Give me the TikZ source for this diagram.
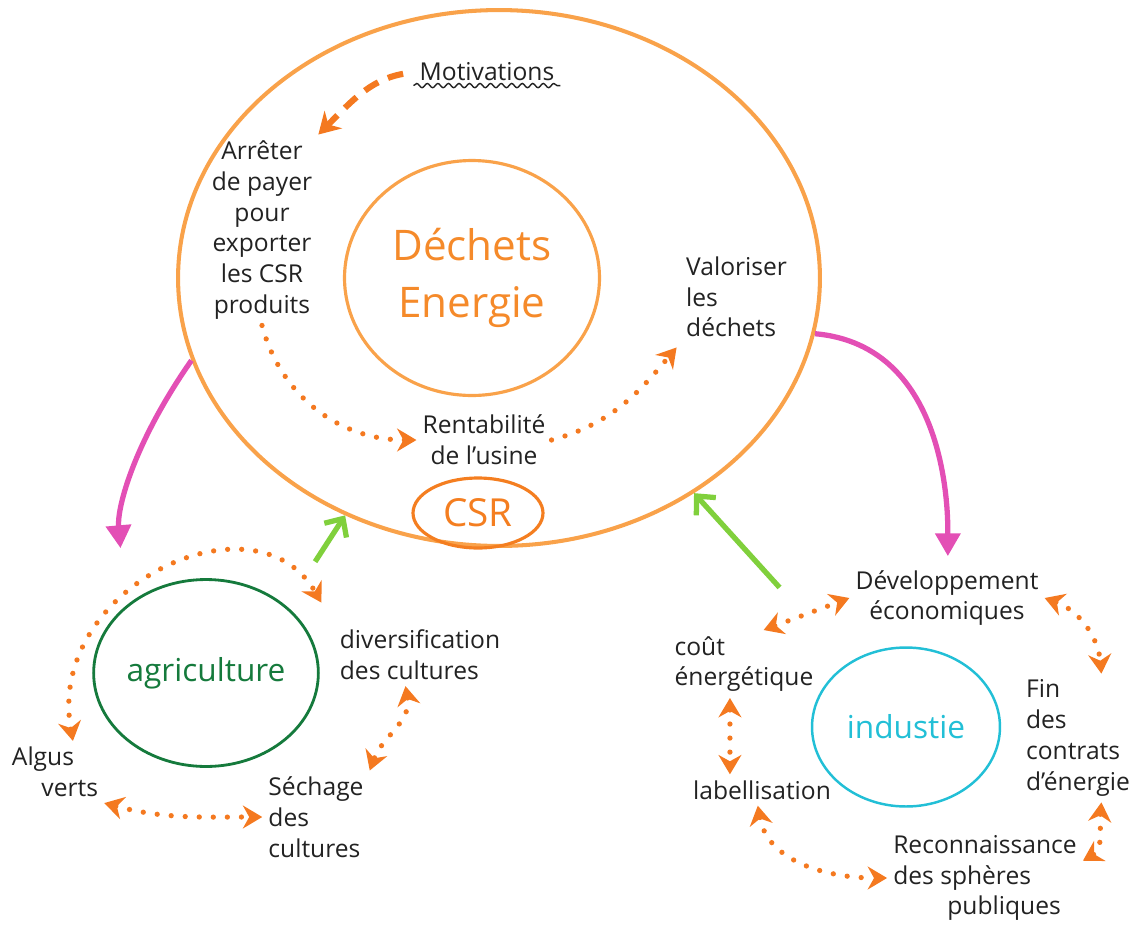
\documentclass[tikz,border=0pt]{standalone}
\usepackage{fontspec}
\setmainfont{Open Sans}
\usetikzlibrary{shapes.geometric,arrows.meta,positioning,decorations.pathmorphing}
\definecolor{ringorange} {HTML}{F9A24A}
\definecolor{titleorange}{HTML}{F58A2A}
\definecolor{csrorange}  {HTML}{F47E20}
\definecolor{dotorange}  {HTML}{F47920}
\definecolor{lienpink}   {HTML}{E34FB5}
\definecolor{liengreen}  {HTML}{80D03C}
\definecolor{agrigreen}  {HTML}{157A3C}
\definecolor{induscyan}  {HTML}{22BFD6}
\definecolor{inkblack}   {HTML}{222222}

\begin{document}
\begin{tikzpicture}[
  x=0.02cm, y=0.02cm,
  ring/.style={draw,ellipse,inner sep=0pt},
  txt/.style={align=center,font=\fontsize{14}{17.5}\selectfont,text=inkblack},
  dotarr/.style={dotorange,line width=3pt,line cap=round,dash pattern=on 0pt off 8pt,
                 -{Stealth[length=11pt,width=13pt]}},
  dotboth/.style={dotarr,{Stealth[length=11pt,width=13pt]}-{Stealth[length=11pt,width=13pt]}},
  dasharr/.style={dotorange,line width=3.5pt,dash pattern=on 9pt off 6pt,
                  -{Stealth[length=12pt,width=14pt]}},
  pinkarr/.style={lienpink,line width=3pt,-{Triangle[length=13pt,width=14pt]}},
  greenarr/.style={liengreen,line width=3pt,-{Straight Barb[length=8pt,width=15pt]}}
]
\useasboundingbox (0,0) rectangle (1144,-944);

%% Dechets Energie : grand cercle, cercle central, CSR
\node[ring,draw=ringorange,line width=2.3pt,minimum width=12.84cm,minimum height=10.72cm]
  (dechets) at (499,-278) {};
\node[ring,draw=ringorange,line width=1.8pt,minimum width=5.1cm,minimum height=4.7cm,
      text=titleorange,align=center,font=\fontsize{24}{32}\selectfont]
  (energie) at (472,-278) {Déchets\\Energie};
\node[ring,draw=csrorange,line width=1.8pt,minimum width=2.6cm,minimum height=1.4cm,
      text=csrorange,font=\fontsize{22}{26}\selectfont]
  (csr) at (478,-513) {CSR};

%% textes dans le grand cercle
\node[txt] (motiv) at (487,-72) {Motivations};
\draw[inkblack,line width=0.8pt,decorate,decoration={snake,amplitude=1.2pt,segment length=6pt}]
  ([yshift=1pt]motiv.south west) -- ([yshift=1pt]motiv.south east);
\node[txt] (arret) at (262,-230) {Arrêter\\de payer\\pour\\exporter\\les CSR\\produits};
\node[txt] (rentab) at (484,-440) {Rentabilité\\de l'usine};
\node[txt,align=left,anchor=west] (valor) at (680,-297) {Valoriser\\les\\déchets};

\draw[dasharr,shorten <=6pt] (motiv.west) to[out=190,in=45] (arret.north east);
\draw[dotarr] (arret.south) to[out=-75,in=180] (rentab.west);
\draw[dotarr,shorten >=3pt] (rentab.east) to[out=15,in=-130] (valor.south west);

%% agriculture
\node[ring,draw=agrigreen,line width=1.6pt,minimum width=4.36cm,minimum height=3.74cm,
      text=agrigreen,font=\fontsize{18}{22}\selectfont]
  (agri) at (206,-673) {agriculture};
\node[txt,align=left] (divers) at (420,-655) {diversification\\des cultures};
\node[txt,align=left] (sechage) at (316,-817) {Séchage\\des\\cultures};
\node[txt,align=left] (algus) at (55,-772) {Algus\\\hspace{1.2em}verts};

\draw[dotboth,shorten >=14pt] (algus.60) to[out=100,in=120,looseness=1.4] (divers.north west);
\draw[dotboth] (divers.-115) to[out=-80,in=70] (sechage.north east);
\draw[dotboth] (algus.south east) to[out=-15,in=180] (sechage.west);

%% industrie
\node[ring,draw=induscyan,line width=1.4pt,minimum width=3.76cm,minimum height=3.18cm,
      text=induscyan,font=\fontsize{18}{22}\selectfont]
  (indus) at (906,-727) {industie};
\node[txt] (devel) at (947,-598) {Développement\\économiques};
\node[txt,align=left] (cout) at (744,-664) {coût\\énergétique};
\node[txt] (label) at (762,-790) {labellisation};
\node[txt,align=left] (fin) at (1078,-738) {Fin\\des\\contrats\\d'énergie};
\node[txt,align=left] (recon) at (985,-878) {Reconnaissance\\des sphères\\\hspace{2.2em}publiques};

\draw[dotboth] (cout.60) -- (devel.west);
\draw[dotboth] (devel.east) to[out=-20,in=95] (fin.70);
\draw[dotboth] ([xshift=-8pt]cout.south) -- ([xshift=-8pt]cout.south |- label.north);
\draw[dotboth] (label.-105) to[out=-80,in=180] (recon.west);
\draw[dotboth] (fin.-70) to[out=-95,in=30] (recon.10);

%% liens entre les cercles
\draw[pinkarr,shorten >=33pt] (dechets.195) to[out=235,in=95] (agri.north west);
\draw[pinkarr,shorten >=56pt] (dechets.-10) to[out=-5,in=90] (indus.60);
\draw[greenarr,shorten <=30pt] (agri.north east) -- (dechets);
\draw[greenarr,shorten <=58pt] (indus) -- (dechets);

\end{tikzpicture}
\end{document}
